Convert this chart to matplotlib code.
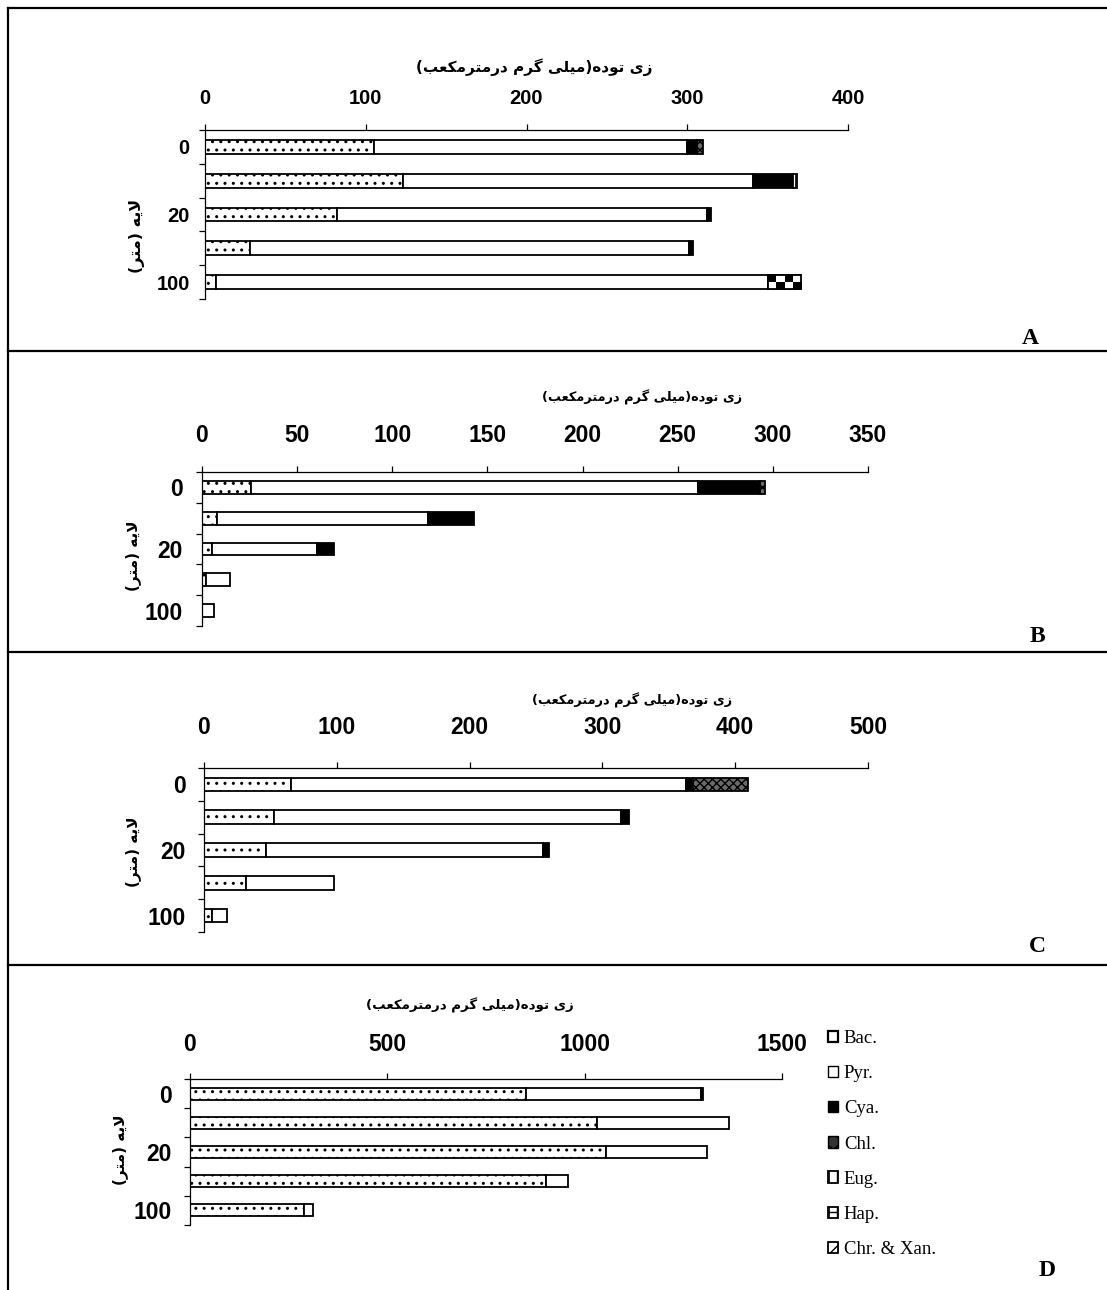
import numpy as np
import matplotlib
matplotlib.use("Agg")
import matplotlib.pyplot as plt
from matplotlib.patches import Patch
from matplotlib.lines import Line2D

# ---------------- data ----------------
layers = ['0', '', '20', '', '100']          # depth layers (m); only some labelled
groups = ['Bac.', 'Pyr.', 'Cya.', 'Chl.', 'Eug.', 'Hap.', 'Chr. & Xan.']

# Panel A
bac_A = [105, 123, 82, 28, 7]
pyr_A = [195, 218, 230, 273, 343]
cya_A = [6, 25, 3, 2.5, 0]
chl_A = [4, 0, 0, 0, 0]
eug_A = [0, 2, 0, 0, 0]
hap_A = [0, 0, 0, 0, 21]
chr_A = [0, 0, 0, 0, 0]
# Panel B
bac_B = [26, 8, 5.5, 2.3, 0]
pyr_B = [234.6, 111, 55, 12.2, 6.5]
cya_B = [32.4, 24, 9, 0, 0]
chl_B = [3, 0, 0, 0, 0]
eug_B = [0, 0, 0, 0, 0]
hap_B = [0, 0, 0, 0, 0]
chr_B = [0, 0, 0, 0, 0]
# Panel C
bac_C = [65.7, 53, 47, 31.7, 5.7]
pyr_C = [297.3, 261, 208, 66, 11.8]
cya_C = [5, 5.8, 5, 0, 0]
chl_C = [42, 0, 0, 0, 0]
eug_C = [0, 0, 0, 0, 0]
hap_C = [0, 0, 0, 0, 0]
chr_C = [0, 0, 0, 0, 0]
# Panel D
bac_D = [852, 1030, 1055, 903, 288]
pyr_D = [443, 336, 255, 54, 24]
cya_D = [4, 0, 0, 0, 0]
chl_D = [0, 0, 0, 0, 0]
eug_D = [0, 0, 0, 0, 0]
hap_D = [0, 0, 0, 0, 0]
chr_D = [0, 0, 0, 0, 0]

xticks_A = [0, 100, 200, 300, 400]
xticks_B = [0, 50, 100, 150, 200, 250, 300, 350]
xticks_C = [0, 100, 200, 300, 400, 500]
xticks_D = [0, 500, 1000, 1500]

panel_letters = ['A', 'B', 'C', 'D']
title_fa = 'زی توده(میلی گرم درمترمکعب)'
ylabel_fa = 'لایه (متر)'

# ---------------- Persian shaping (matplotlib has no shaping) ----------------
FORMS = {
    'ا': ('\uFE8D', '\uFE8E', None, None),
    'ب': ('\uFE8F', '\uFE90', '\uFE91', '\uFE92'),
    'ت': ('\uFE95', '\uFE96', '\uFE97', '\uFE98'),
    'د': ('\uFEA9', '\uFEAA', None, None),
    'ر': ('\uFEAD', '\uFEAE', None, None),
    'ز': ('\uFEAF', '\uFEB0', None, None),
    'ع': ('\uFEC9', '\uFECA', '\uFECB', '\uFECC'),
    'ل': ('\uFEDD', '\uFEDE', '\uFEDF', '\uFEE0'),
    'م': ('\uFEE1', '\uFEE2', '\uFEE3', '\uFEE4'),
    'ه': ('\uFEE9', '\uFEEA', '\uFEEB', '\uFEEC'),
    'و': ('\uFEED', '\uFEEE', None, None),
    'ی': ('\uFBFC', '\uFBFD', '\uFBFE', '\uFBFF'),
    'ک': ('\uFB8E', '\uFB8F', '\uFB90', '\uFB91'),
    'گ': ('\uFB92', '\uFB93', '\uFB94', '\uFB95'),
}


def shape_fa(text):
    toks = []
    i = 0
    while i < len(text):
        if text[i] == 'ل' and i + 1 < len(text) and text[i + 1] == 'ا':
            toks.append('LA')
            i += 2
        else:
            toks.append(text[i])
            i += 1

    def is_ar(t):
        return t == 'LA' or t in FORMS

    def dual(t):
        return t in FORMS and FORMS[t][2] is not None

    out = []
    for k, t in enumerate(toks):
        prev = toks[k - 1] if k > 0 else None
        nxt = toks[k + 1] if k + 1 < len(toks) else None
        if not is_ar(t):
            out.append(t)
            continue
        cp = prev is not None and dual(prev)
        cn = nxt is not None and is_ar(nxt) and dual(t)
        if t == 'LA':
            out.append('\uFEFC' if cp else '\uFEFB')
            continue
        iso, fin, ini, med = FORMS[t]
        out.append(med if (cp and cn) else fin if cp else ini if cn else iso)
    vis = ''.join(reversed(out))
    return vis.translate(str.maketrans('()', ')('))


# ---------------- figure ----------------
W, H = 1107, 1290
fig = plt.figure(figsize=(W / 100, H / 100), dpi=100)
fig.patch.set_facecolor('white')

FA_FONT = ['DejaVu Sans']
NUM_A = ['Liberation Sans']
NUM_N = ['Liberation Sans Narrow', 'Liberation Sans']
SERIF = ['Liberation Serif']

styles = [
    dict(facecolor='white', hatch='..'),      # Bac
    dict(facecolor='white', hatch=None),      # Pyr
    dict(facecolor='black', hatch=None),      # Cya
    dict(facecolor='#6a6a6a', hatch='xxxx'),  # Chl
    dict(facecolor='white', hatch='||'),      # Eug
    dict(facecolor='white', hatch=None),      # Hap (checker drawn below)
    dict(facecolor='white', hatch='///'),     # Chr & Xan
]


def px_axes(x0, x1, ytop, ybot):
    return fig.add_axes([x0 / W, 1 - ybot / H, (x1 - x0) / W, (ybot - ytop) / H])


panels = [
    dict(box=(205, 848, 130, 299), series=[bac_A, pyr_A, cya_A, chl_A, eug_A, hap_A, chr_A],
         xticks=xticks_A, font=NUM_A, fs=14.5, xpad=11.5, ypad=11,
         title=(534, 67, 11), ylab=(137, 236, 11.5), letter=(1030, 338)),
    dict(box=(202, 868, 472, 626), series=[bac_B, pyr_B, cya_B, chl_B, eug_B, hap_B, chr_B],
         xticks=xticks_B, font=NUM_N, fs=16.5, xpad=13.5, ypad=14,
         title=(642, 397, 9.3), ylab=(133, 556, 11), letter=(1037, 636)),
    dict(box=(204, 868, 768, 932), series=[bac_C, pyr_C, cya_C, chl_C, eug_C, hap_C, chr_C],
         xticks=xticks_C, font=NUM_N, fs=16.5, xpad=16.5, ypad=13,
         title=(632, 700, 9.3), ylab=(133, 852, 11), letter=(1037, 946)),
    dict(box=(190, 782, 1079, 1225), series=[bac_D, pyr_D, cya_D, chl_D, eug_D, hap_D, chr_D],
         xticks=xticks_D, font=NUM_N, fs=16.5, xpad=12, ypad=13,
         title=(470, 1005, 9.6), ylab=(120, 1150, 11), letter=(1047, 1270)),
]

bar_h = 0.41
ypos = np.arange(len(layers))

for p in panels:
    ax = px_axes(*p['box'])
    left = np.zeros(len(layers))
    for si, vals in enumerate(p['series']):
        vals = np.asarray(vals, dtype=float)
        st = styles[si]
        mask = vals > 0
        if not mask.any():
            left += vals
            continue
        ax.barh(ypos[mask], vals[mask], left=left[mask], height=bar_h,
                facecolor=st['facecolor'], edgecolor='black', hatch=st['hatch'],
                linewidth=1.3, zorder=2)
        if groups[si] == 'Hap.':
            for yi in np.where(mask)[0]:
                checker = np.indices((2, 4)).sum(axis=0) % 2
                ax.imshow(checker, cmap='gray', aspect='auto', interpolation='nearest',
                          extent=(left[yi], left[yi] + vals[yi], yi + bar_h / 2, yi - bar_h / 2),
                          zorder=2.5)
                ax.barh(yi, vals[yi], left=left[yi], height=bar_h, facecolor='none',
                        edgecolor='black', linewidth=1.3, zorder=3)
        left += vals

    xt = p['xticks']
    ax.set_xlim(xt[0], xt[-1])
    ax.set_ylim(len(layers) - 0.5, -0.5)
    ax.xaxis.tick_top()
    ax.set_xticks(xt)
    ax.set_xticklabels([str(v) for v in xt])
    ax.set_yticks(np.arange(-0.5, len(layers), 1.0))
    ax.set_yticklabels([])
    ax.set_yticks(ypos, minor=True)
    ax.set_yticklabels(layers, minor=True)
    ax.tick_params(axis='x', which='major', direction='out', length=4.5, width=0.9,
                   pad=p['xpad'], top=True, bottom=False)
    ax.tick_params(axis='y', which='major', direction='out', length=4, width=0.9, left=True)
    ax.tick_params(axis='y', which='minor', length=0, pad=p['ypad'])
    for lab in ax.get_xticklabels() + ax.get_yticklabels(minor=True):
        lab.set_fontfamily(p['font'])
        lab.set_fontsize(p['fs'])
        lab.set_fontweight('bold')
    for s in ['right', 'bottom']:
        ax.spines[s].set_visible(False)
    for s in ['top', 'left']:
        ax.spines[s].set_linewidth(0.9)
    ax.set_facecolor('none')

    tx, ty, tfs = p['title']
    fig.text(tx / W, 1 - ty / H, shape_fa(title_fa), ha='center', va='center',
             fontsize=tfs, fontweight='bold', family=FA_FONT)
    lx, ly, lfs = p['ylab']
    fig.text(lx / W, 1 - ly / H, shape_fa(ylabel_fa), ha='center', va='center',
             rotation=90, fontsize=lfs, fontweight='bold', family=FA_FONT)

for p, letter in zip(panels, panel_letters):
    x, y = p['letter']
    fig.text(x / W, 1 - y / H, letter, ha='center', va='center', fontsize=17,
             fontweight='bold', family=SERIF)

# legend (panel D)
handles = [
    Patch(facecolor='white', edgecolor='black', linewidth=1.6),
    Patch(facecolor='white', edgecolor='black', linewidth=1.0),
    Patch(facecolor='black', edgecolor='black'),
    Patch(facecolor='#333333', edgecolor='black', hatch='xx'),
    Patch(facecolor='white', edgecolor='black', hatch='||', linewidth=1.3),
    Patch(facecolor='white', edgecolor='black', hatch='++', linewidth=1.3),
    Patch(facecolor='white', edgecolor='black', hatch='//', linewidth=1.3),
]
fig.legend(handles, groups, loc='upper left', bbox_to_anchor=(828 / W, 1 - 1030 / H),
           frameon=False, handlelength=0.55, handleheight=0.55, handletextpad=0.3,
           labelspacing=0.97, borderpad=0, borderaxespad=0,
           prop=dict(family=SERIF, size=13.5))

# frame lines
def hline(y, x0=8, x1=W):
    fig.add_artist(Line2D([x0 / W, x1 / W], [1 - y / H, 1 - y / H], color='black',
                          linewidth=1.6, transform=fig.transFigure))

hline(8)
hline(351)
hline(652)
hline(965)
fig.add_artist(Line2D([8 / W, 8 / W], [1 - 8 / H, 0], color='black', linewidth=1.6,
                      transform=fig.transFigure))

fig.savefig('out.png', dpi=100)
